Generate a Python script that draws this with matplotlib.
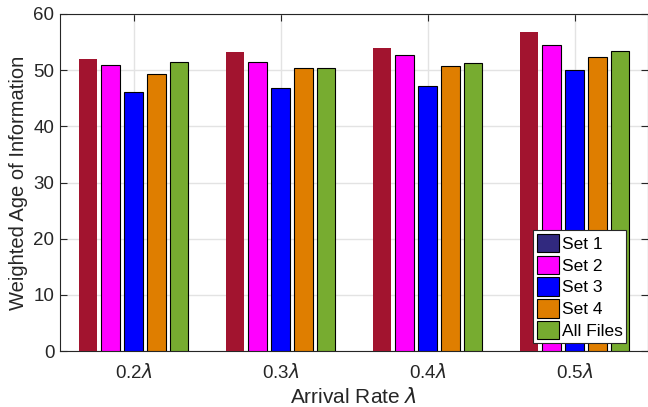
import numpy as np
import matplotlib
matplotlib.use('Agg')
import matplotlib.pyplot as plt
from matplotlib.patches import Patch

plt.rcParams['font.family'] = ['Liberation Sans', 'DejaVu Sans']
plt.rcParams['mathtext.fontset'] = 'dejavusans'

# data
rates = ['0.2$\\lambda$', '0.3$\\lambda$', '0.4$\\lambda$', '0.5$\\lambda$']
set1 = [51.9, 53.2, 54.0, 56.8]
set2 = [50.9, 51.4, 52.7, 54.5]
set3 = [46.2, 46.9, 47.1, 50.1]
set4 = [49.4, 50.3, 50.8, 52.3]
all_files = [51.4, 50.4, 51.2, 53.4]
labels = ['Set 1', 'Set 2', 'Set 3', 'Set 4', 'All Files']

series = [set1, set2, set3, set4, all_files]
bar_colors = ['#A2142F', '#FF00FF', '#0000FF', '#DF7E00', '#77AC30']
legend_colors = ['#31297F', '#FF00FF', '#0000FF', '#DF7E00', '#77AC30']

fig = plt.figure(figsize=(6.48, 4.07), dpi=100)
ax = fig.add_axes([60 / 648, 56 / 407, 588 / 648, 337 / 407])

x = np.arange(1, len(rates) + 1)
step = 0.155
width = 0.126
for i, (vals, col) in enumerate(zip(series, bar_colors)):
    edge = 'none' if i == 0 else 'black'
    ax.bar(x + (i - 2) * step, vals, width, color=col, edgecolor=edge, linewidth=0.8, zorder=3)

ax.set_xlim(0.5, 4.5)
ax.set_ylim(0, 60)
ax.set_xticks(x)
ax.set_xticklabels(rates)
ax.set_yticks(np.arange(0, 61, 10))
ax.grid(True, color='#E3E3E3', linewidth=1.0)
ax.set_axisbelow(True)

dark = '#262626'
for s in ax.spines.values():
    s.set_color(dark)
    s.set_linewidth(0.8)
ax.tick_params(direction='in', top=True, right=True, length=5, colors=dark,
               labelsize=13.5)
ax.tick_params(axis='x', pad=9)
ax.tick_params(axis='y', pad=4)

ax.set_xlabel('Arrival Rate $\\lambda$', fontsize=15, color=dark, labelpad=3)
ax.set_ylabel('Weighted Age of Information', fontsize=14.5, color=dark, labelpad=4)

handles = [Patch(facecolor=c, edgecolor='black', linewidth=0.8) for c in legend_colors]
leg = ax.legend(handles, labels, loc='lower right', bbox_to_anchor=(0.963, 0.024),
                fontsize=12.5, frameon=True, fancybox=False, framealpha=1,
                edgecolor=dark, borderpad=0.2, labelspacing=0.2,
                handlelength=1.3, handleheight=1.25, handletextpad=0.15,
                borderaxespad=0)
leg.get_frame().set_linewidth(0.8)

fig.savefig('out.png', dpi=100)
